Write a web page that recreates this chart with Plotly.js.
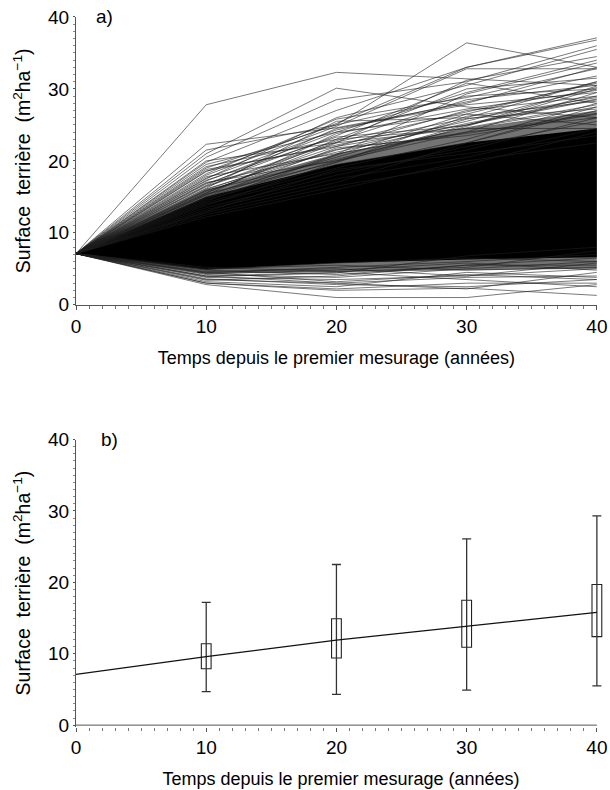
<!DOCTYPE html>
<html>
<head>
<meta charset="utf-8">
<script src="https://cdn.plot.ly/plotly-3.0.1.min.js"></script>
<style>html,body{margin:0;padding:0;background:#fff;}#chart{width:610px;height:790px;}</style>
</head>
<body>
<div id="chart"></div>
<script>
// ---- Panel a) : individual plot trajectories (m2/ha) ----
var years = [0, 10, 20, 30, 40];
var startBA = 7.1;
var ba10 = [27.8,22.3,21.0,20.5,19.8,19.0,18.5,18.0,17.5,17.2,16.8,16.5,16.2,16.0,15.8,15.5,15.3,15.0,14.8,14.6,
            14.4,14.2,14.0,13.8,13.5,13.2,13.0,12.8,12.5,12.2,20.0,19.5,18.8,17.8,19.2,18.2,17.0,16.6,15.6,21.5,
            2.8,3.0,3.2,3.5,3.0,3.8,4.0,4.2,3.4,4.5,4.6,4.8,4.0,5.0,4.4,3.6,4.9,4.3,5.2,3.9,
            16.9,16.4,15.9,15.2,17.6,18.6,16.1,15.4,14.9,17.3];
var ba20 = [32.3,24.6,30.1,28.5,27.0,25.0,25.2,24.8,26.0,24.0,23.5,22.8,25.5,22.0,21.5,23.0,20.5,21.8,20.0,19.5,
            20.8,19.0,18.5,19.8,18.0,17.5,18.8,17.0,16.5,16.0,22.5,24.0,22.0,21.0,23.0,25.8,20.0,24.5,22.5,25.0,
            1.0,2.0,2.5,3.0,2.2,3.5,4.5,3.8,4.0,3.2,5.0,4.2,3.0,5.5,5.2,2.8,5.8,4.8,4.6,4.4,
            21.2,22.6,20.2,23.8,24.3,22.2,21.6,19.8,20.9,23.3];
var ba30 = [31.4,28.0,27.5,31.0,33.0,36.4,33.0,32.8,30.5,29.5,30.8,28.5,26.0,27.0,25.5,24.5,25.8,23.5,24.0,22.5,
            26.5,23.0,21.5,24.8,22.0,20.5,21.0,22.5,19.5,20.0,24.5,26.5,25.0,24.0,30.0,28.8,25.0,27.8,31.2,29.0,
            1.0,2.3,4.5,2.2,3.0,4.0,3.5,5.0,5.5,4.2,4.0,5.5,3.8,4.8,6.0,2.5,6.5,5.8,5.2,6.8,
            25.2,26.8,24.6,27.2,28.2,25.9,23.8,26.2,29.3,24.9];
var ba40 = [30.5,33.0,26.0,36.0,36.8,33.0,37.1,32.8,35.5,34.0,28.0,30.5,31.0,29.0,30.2,27.5,28.8,26.5,29.5,27.0,
            25.0,28.0,26.0,30.0,25.5,24.5,23.5,27.5,24.0,22.5,24.5,31.0,29.0,26.0,31.5,32.8,28.5,29.5,34.5,30.0,
            2.8,1.3,3.8,4.5,3.0,5.0,2.5,6.0,5.5,3.5,5.8,6.5,4.0,5.2,7.0,3.5,6.0,4.8,7.5,8.0,
            28.6,30.8,27.8,29.8,31.8,27.2,26.6,28.3,33.6,30.4];
// dense core of the trajectory bundle (lower / upper envelopes)
var coreLow  = [7.1, 4.9, 5.8, 6.3, 6.6];
var coreHigh = [7.1, 15.0, 19.5, 22.5, 24.5];
var fringeLow  = [7.1, 4.3, 4.6, 4.8, 5.0];
var fringeHigh = [7.1, 16.0, 21.0, 24.5, 27.0];

// ---- Panel b) : distribution by measurement ----
var boxYears = [10, 20, 30, 40];
var whiskLow = [4.7, 4.3, 4.9, 5.5];
var boxQ1    = [7.9, 9.4, 10.9, 12.4];
var boxQ3    = [11.4, 14.9, 17.5, 19.7];
var whiskHigh= [17.2, 22.5, 26.1, 29.3];
var fitYears = [0, 10, 20, 30, 40];
var fitBA    = [7.1, 9.6, 11.9, 13.8, 15.8];

var XMAX2 = 40.7;   // a little room so the last box is not clipped

var traces = [];
function envX(){ return years.concat(years.slice().reverse()); }
traces.push({x: envX(), y: fringeHigh.concat(fringeLow.slice().reverse()), type:'scatter', mode:'lines',
  fill:'toself', fillcolor:'rgba(0,0,0,0.55)', line:{width:0}, hoverinfo:'skip', xaxis:'x', yaxis:'y'});
traces.push({x: envX(), y: coreHigh.concat(coreLow.slice().reverse()), type:'scatter', mode:'lines',
  fill:'toself', fillcolor:'#000', line:{width:0}, hoverinfo:'skip', xaxis:'x', yaxis:'y'});
for (var i = 0; i < ba10.length; i++) {
  traces.push({x: years, y: [startBA, ba10[i], ba20[i], ba30[i], ba40[i]], type:'scatter', mode:'lines',
    line:{color:'rgba(30,30,30,0.75)', width:0.8}, hoverinfo:'skip', xaxis:'x', yaxis:'y'});
}
// panel b
traces.push({x: boxYears, y: whiskHigh, type:'scatter', mode:'markers', marker:{opacity:0, size:1},
  error_y:{type:'data', symmetric:false, array: whiskHigh.map(function(){return 0;}),
    arrayminus: whiskHigh.map(function(v,i){return v-whiskLow[i];}),
    color:'#333', thickness:1.3, width:4.5}, xaxis:'x2', yaxis:'y2', hoverinfo:'skip'});
traces.push({x: boxYears, y: boxQ3.map(function(v,i){return v-boxQ1[i];}), base: boxQ1, type:'bar', width:0.75,
  marker:{color:'#fff', line:{color:'#222', width:1.1}}, xaxis:'x2', yaxis:'y2', hoverinfo:'skip'});
traces.push({x: fitYears, y: fitBA, type:'scatter', mode:'lines', line:{color:'#111', width:1.2},
  xaxis:'x2', yaxis:'y2', hoverinfo:'skip'});

var FONT = 'Liberation Sans, Arial, sans-serif';
var TF = 19;
function xax(range, dom){
  return {range:range, tickvals:[0,10,20,30,40], ticks:'outside', ticklen:4, tickcolor:'#555', showline:true,
    linecolor:'#555', linewidth:1, showgrid:false, zeroline:false, tickfont:{size:TF, color:'#000', family:FONT},
    minor:{tickvals:[1,2,3,4,5,6,7,8,9,11,12,13,14,15,16,17,18,19,21,22,23,24,25,26,27,28,29,31,32,33,34,35,36,37,38,39], ticks:'outside', ticklen:3, tickcolor:'#777', showgrid:false},
    title:{text:'Temps depuis le premier mesurage (années)', font:{size:18, color:'#000', family:FONT}, standoff:15},
    domain:dom};
}
function yax(dom, anchor, range){
  return {range:range, tickvals:[0,10,20,30,40], ticks:'outside', ticklen:2, tickcolor:'#555', showline:true,
    linecolor:'#555', linewidth:1, showgrid:false, zeroline:false, tickfont:{size:TF, color:'#000', family:FONT},
    minor:{dtick:1, ticks:'outside', ticklen:2, tickcolor:'#888', showgrid:false},
    title:{text:'Surface  terrière  (m<sup>2</sup>ha<sup>−1</sup>)', font:{size:19.5, color:'#000', family:FONT}, standoff:12},
    domain:dom, anchor:anchor};
}
var layout = {
  width:610, height:790, showlegend:false, paper_bgcolor:'#fff', plot_bgcolor:'#fff',
  margin:{l:76, r:610-76-Math.round(521*XMAX2/40), t:10, b:6},
  font:{family:FONT, color:'#000'},
  xaxis: Object.assign(xax([0,40], [0, 40/XMAX2]), {anchor:'y'}),
  yaxis: yax([0.6192, 0.9910], 'x', [0,40]),
  xaxis2: Object.assign(xax([0,XMAX2], [0,1]), {anchor:'y2', showline:false}),
  yaxis2: yax([0.0742, 0.4450], 'x2', [-0.2,40]),
  bargap:0,
  shapes:[
    {type:'line', xref:'x2', yref:'y2', x0:0, x1:40, y0:0, y1:0, line:{color:'#555', width:1}, layer:'below'}
  ],
  annotations:[
    {text:'a)', x:2.2, y:40, xref:'x', yref:'y', showarrow:false, xanchor:'center', yanchor:'middle', font:{size:19, family:FONT}},
    {text:'b)', x:2.6, y:40, xref:'x2', yref:'y2', showarrow:false, xanchor:'center', yanchor:'middle', font:{size:19, family:FONT}}
  ]
};
Plotly.newPlot('chart', traces, layout, {displayModeBar:false, staticPlot:true});
</script>
</body>
</html>
